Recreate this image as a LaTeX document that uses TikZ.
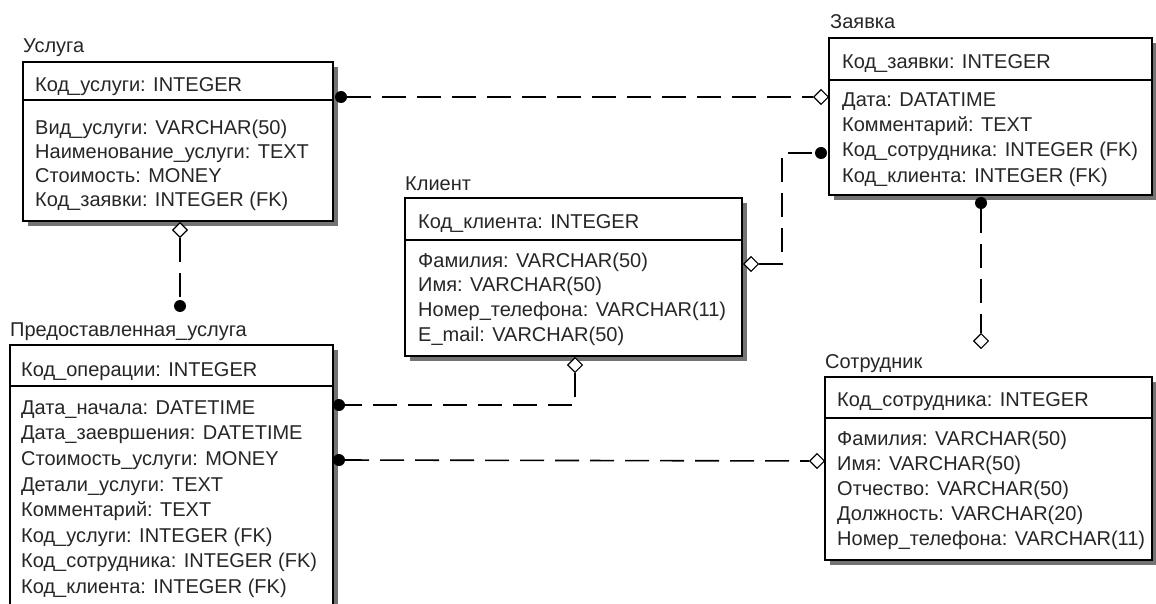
\documentclass[tikz,border=0pt]{standalone}
\usepackage{fontspec}
\setmainfont{Liberation Sans}
\usetikzlibrary{shapes.geometric,calc}
\begin{document}
\begin{tikzpicture}[x=1pt,y=-1pt,
  ebox/.style={draw=black, line width=1.3pt, fill=white, inner sep=0pt, outer sep=0pt, anchor=north west},
  shad/.style={fill=black!55},
  etext/.style={anchor=north west, inner sep=0pt, align=left, text=black!85},
  ttl/.style={anchor=base west, inner sep=0pt, text=black!85, font=\fontsize{20}{24}\selectfont},
  dot/.style={circle, fill=black, inner sep=0pt, minimum size=12pt},
  dia/.style={diamond, draw=black, fill=white, line width=1.1pt, inner sep=0pt, minimum size=15pt},
  conn/.style={draw=black, line width=1.6pt, dash pattern=on 24pt off 11pt}
]
\useasboundingbox (0,0) rectangle (1156,604);
\clip (0,0) rectangle (1156,604);
\fill[white] (0,0) rectangle (1156,604);

% ---------- Услуга ----------
\fill[shad] (28,67) rectangle (338,226);
\node[ebox, minimum width=310pt, minimum height=38pt] (uH) at (23,62) {};
\node[ebox, minimum width=310pt, minimum height=121pt] (uB) at (uH.south west) {};
\node[ttl] (uT) at (23,53) {Услуга};
\node[etext, font=\fontsize{20}{24}\selectfont] (uHt) at (35,76) {\rule{0pt}{15pt}Код\_услуги: INTEGER};
\node[etext, font=\fontsize{20}{24}\selectfont] (uBt) at (35,119) {\rule{0pt}{15pt}Вид\_услуги: VARCHAR(50)\\Наименование\_услуги: TEXT\\Стоимость: MONEY\\Код\_заявки: INTEGER (FK)};

% ---------- Предоставленная_услуга ----------
\fill[shad] (15,350) rectangle (338,650);
\node[ebox, minimum width=323pt, minimum height=41pt] (pH) at (10,345) {};
\node[ebox, minimum width=323pt, minimum height=254pt] (pB) at (pH.south west) {};
\node[ttl] (pT) at (10,336) {Предоставленная\_услуга};
\node[etext, font=\fontsize{20}{25.6}\selectfont] (pHt) at (21,361) {\rule{0pt}{15pt}Код\_операции: INTEGER};
\node[etext, font=\fontsize{20}{25.6}\selectfont] (pBt) at (21,399) {\rule{0pt}{15pt}Дата\_начала: DATETIME\\Дата\_заевршения: DATETIME\\Стоимость\_услуги: MONEY\\Детали\_услуги: TEXT\\Комментарий: TEXT\\Код\_услуги: INTEGER (FK)\\Код\_сотрудника: INTEGER (FK)\\Код\_клиента: INTEGER (FK)};

% ---------- Клиент ----------
\fill[shad] (410,203) rectangle (747,361);
\node[ebox, minimum width=337pt, minimum height=42pt] (kH) at (405,198) {};
\node[ebox, minimum width=337pt, minimum height=116pt] (kB) at (kH.south west) {};
\node[ttl] (kT) at (405,191) {Клиент};
\node[etext, font=\fontsize{20}{24.7}\selectfont] (kHt) at (418,213) {\rule{0pt}{15pt}Код\_клиента: INTEGER};
\node[etext, font=\fontsize{20}{24.7}\selectfont] (kBt) at (418,252) {\rule{0pt}{15pt}Фамилия: VARCHAR(50)\\Имя: VARCHAR(50)\\Номер\_телефона: VARCHAR(11)\\E\_mail: VARCHAR(50)};

% ---------- Заявка ----------
\fill[shad] (834,43) rectangle (1157,200);
\node[ebox, minimum width=323pt, minimum height=42pt] (zH) at (829,38) {};
\node[ebox, minimum width=323pt, minimum height=115pt] (zB) at (zH.south west) {};
\node[ttl] (zT) at (830,29) {Заявка};
\node[etext, font=\fontsize{20}{25.3}\selectfont] (zHt) at (842,53) {\rule{0pt}{15pt}Код\_заявки: INTEGER};
\node[etext, font=\fontsize{20}{25.3}\selectfont] (zBt) at (842,91) {\rule{0pt}{15pt}Дата: DATATIME\\Комментарий: TEXT\\Код\_сотрудника: INTEGER (FK)\\Код\_клиента: INTEGER (FK)};

% ---------- Сотрудник ----------
\fill[shad] (830,382) rectangle (1157,565);
\node[ebox, minimum width=327pt, minimum height=41pt] (sH) at (825,377) {};
\node[ebox, minimum width=327pt, minimum height=142pt] (sB) at (sH.south west) {};
\node[ttl] (sT) at (825,368) {Сотрудник};
\node[etext, font=\fontsize{20}{25}\selectfont] (sHt) at (837,391) {\rule{0pt}{15pt}Код\_сотрудника: INTEGER};
\node[etext, font=\fontsize{20}{25}\selectfont] (sBt) at (837,430) {\rule{0pt}{15pt}Фамилия: VARCHAR(50)\\Имя: VARCHAR(50)\\Отчество: VARCHAR(50)\\Должность: VARCHAR(20)\\Номер\_телефона: VARCHAR(11)};

% ---------- connector ends ----------
\node[dot] (d1) at (341,97) {};
\node[dia] (m1) at (821,97) {};
\node[dia] (m2) at (180,230) {};
\node[dot] (d2) at (180,306) {};
\node[dia] (m3) at (751,264) {};
\node[dot] (d3) at (821,153) {};
\coordinate (c3) at (782,210);
\node[dot] (d4) at (981,203) {};
\node[dia] (m4) at (981,341) {};
\node[dia] (m5) at (575,365) {};
\node[dot] (d5) at (339,405) {};
\node[dot] (d6) at (339,460) {};
\node[dia] (m6) at (817,461) {};

% ---------- connectors ----------
\draw[conn] (d1) -- (m1);
\draw[conn] (m2) -- (d2);
\draw[conn] (m3.east) -| (c3) |- (d3.west);
\draw[conn] (d4) -- (m4);
\draw[conn] (m5.south) |- (d5.east);
\draw[conn] (d6) -- (m6);
\end{tikzpicture}
\end{document}
